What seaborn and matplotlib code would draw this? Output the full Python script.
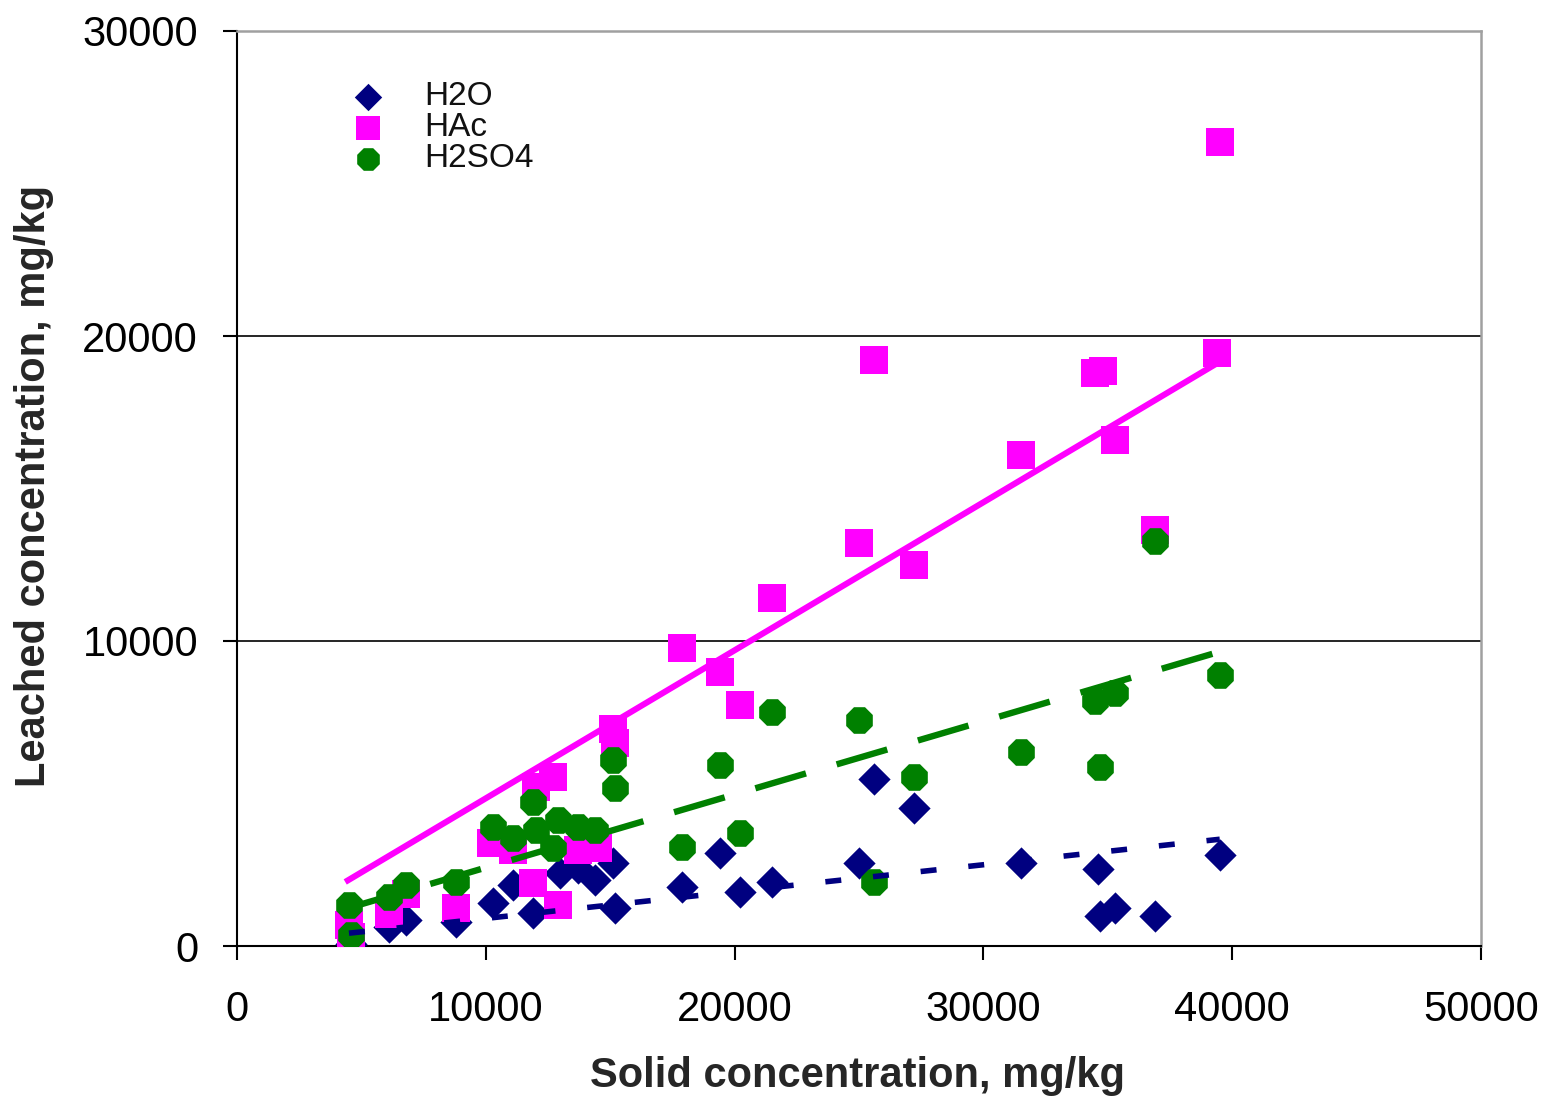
import matplotlib
matplotlib.use("Agg")
import matplotlib.pyplot as plt
import seaborn as sns
import pandas as pd

# Leached vs. solid concentration for three leachants (mg/kg)
h2o_solid = [4600, 6100, 6800, 8800, 10300, 11100, 11900, 13000, 13700, 14400,
             15100, 15200, 17900, 19400, 20200, 21500, 25000, 25600, 27200,
             31500, 34600, 34700, 35300, 36900, 39500]
h2o_leached = [50, 620, 850, 800, 1410, 2000, 1080, 2390, 2550, 2160,
               2720, 1250, 1940, 3050, 1770, 2100, 2730, 5470, 4540,
               2730, 2540, 990, 1250, 990, 2990]

hac_solid = [4500, 4600, 6100, 6800, 8800, 10200, 11100, 11900, 12000, 12700,
             12900, 13700, 14500, 15100, 15200, 17900, 19400, 20200, 21500,
             25000, 25600, 27200, 31500, 34500, 34800, 35300, 36900, 39400, 39500]
hac_leached = [700, 300, 1050, 1700, 1250, 3380, 3150, 2070, 5200, 5550,
               1340, 3150, 3210, 7100, 6650, 9770, 8980, 7900, 11400,
               13200, 19200, 12500, 16100, 18800, 18850, 16600, 13630, 19440, 26360]

h2so4_solid = [4500, 4600, 6100, 6800, 8800, 10300, 11100, 11900, 12000, 12700,
               12900, 13700, 14400, 15100, 15200, 17900, 19400, 20200, 21500,
               25000, 25600, 27200, 31500, 34500, 34700, 35300, 36900, 39500]
h2so4_leached = [1340, 360, 1610, 2000, 2100, 3900, 3540, 4720, 3800, 3210,
                 4130, 3900, 3800, 6100, 5180, 3250, 5930, 3700, 7670,
                 7400, 2090, 5530, 6370, 8020, 5860, 8280, 13270, 8890]

# Linear trend lines (end points)
h2o_trend_x = [4500, 39500]
h2o_trend_y = [420, 3500]
hac_trend_x = [4350, 39380]
hac_trend_y = [2100, 19100]
h2so4_trend_x = [4500, 39500]
h2so4_trend_y = [1250, 9650]

x_ticks = [0, 10000, 20000, 30000, 40000, 50000]
y_ticks = [0, 10000, 20000, 30000]

NAVY = "#000080"
MAGENTA = "#FF00FF"
GREEN = "#008000"

sns.set_style("white")
plt.rcParams["font.family"] = ["Liberation Sans", "DejaVu Sans"]
plt.rcParams["lines.scale_dashes"] = False

fig = plt.figure(figsize=(15.47, 10.99), dpi=100)
ax = fig.add_axes([237 / 1547, 1 - 946 / 1099, 1244 / 1547, 915 / 1099])

h2o = pd.DataFrame({"solid": h2o_solid, "leached": h2o_leached})
hac = pd.DataFrame({"solid": hac_solid, "leached": hac_leached})
h2so4 = pd.DataFrame({"solid": h2so4_solid, "leached": h2so4_leached})

sns.scatterplot(data=h2o, x="solid", y="leached", ax=ax, marker="D", s=270,
                color=NAVY, linewidth=0, label="H2O", zorder=3)
sns.scatterplot(data=hac, x="solid", y="leached", ax=ax, marker="s", s=380,
                color=MAGENTA, linewidth=0, label="HAc", zorder=4)
sns.scatterplot(data=h2so4, x="solid", y="leached", ax=ax, marker="8", s=430,
                color=GREEN, linewidth=0, label="H2SO4", zorder=5)

ax.plot(hac_trend_x, hac_trend_y, color=MAGENTA, lw=4.4, zorder=6,
        solid_capstyle="butt")
ax.plot(h2so4_trend_x, h2so4_trend_y, color=GREEN, lw=4.6, zorder=6,
        dashes=(38, 23))
ax.plot(h2o_trend_x, h2o_trend_y, color=NAVY, lw=4.0, zorder=6,
        dashes=(11.5, 23))

ax.set_xlim(0, 50000)
ax.set_ylim(0, 30000)
ax.set_xticks(x_ticks)
ax.set_yticks(y_ticks)
ax.set_xticklabels([str(v) for v in x_ticks])
ax.set_yticklabels([str(v) for v in y_ticks])

for yv in y_ticks[1:-1]:
    ax.axhline(yv, color="black", lw=1.2, zorder=1)

for side in ("top", "right"):
    ax.spines[side].set_color("#a0a0a0")
    ax.spines[side].set_linewidth(1.8)
for side in ("left", "bottom"):
    ax.spines[side].set_color("black")
    ax.spines[side].set_linewidth(1.5)

ax.tick_params(axis="both", which="major", direction="out", length=10,
               width=1.5, color="black", labelsize=30, labelcolor="black")
ax.tick_params(axis="y", pad=18)
ax.tick_params(axis="x", pad=22)
ax.xaxis.set_ticks_position("bottom")
ax.yaxis.set_ticks_position("left")

ax.set_xlabel("Solid concentration, mg/kg", fontsize=30, fontweight="bold")
ax.set_ylabel("Leached concentration, mg/kg", fontsize=30, fontweight="bold")
ax.xaxis.label.set_va("center")
ax.yaxis.label.set_va("center")
ax.xaxis.set_label_coords((858 - 237) / 1244, (946 - 1076) / 915)
ax.yaxis.set_label_coords((34 - 237) / 1244, (946 - 486) / 915)

leg = ax.legend(loc="upper left", bbox_to_anchor=(0.0917, 0.945),
                frameon=False, fontsize=24, handlelength=1.0,
                handletextpad=1.2, labelspacing=0.0, borderpad=0,
                borderaxespad=0, scatterpoints=1, markerscale=0.85)
for txt in leg.get_texts():
    txt.set_color("#111111")

fig.savefig("out.png", dpi=100, facecolor="white")
